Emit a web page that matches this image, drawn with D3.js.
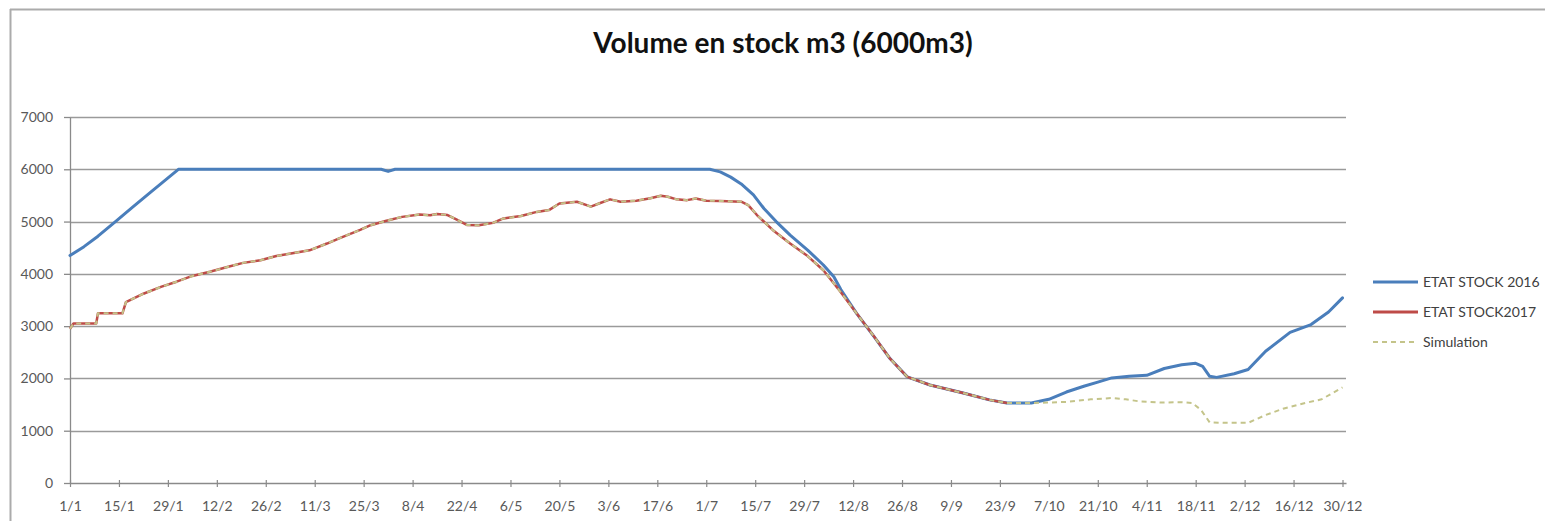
<!DOCTYPE html>
<html><head><meta charset="utf-8">
<script src="https://cdn.jsdelivr.net/npm/d3@7"></script>
<style>html,body{margin:0;padding:0;background:#fff;} svg{display:block;}</style>
</head><body>
<svg id="chart" width="1545" height="521"></svg>
<script>
// ---- data ----
const chartTitle = "Volume en stock m3 (6000m3)";
const tickDays = [0,14,28,42,56,70,84,98,112,126,140,154,168,182,196,210,224,238,252,266,280,294,308,322,336,350,364];
const tickLabels = ["1/1","15/1","29/1","12/2","26/2","11/3","25/3","8/4","22/4","6/5","20/5","3/6","17/6","1/7","15/7","29/7","12/8","26/8","9/9","23/9","7/10","21/10","4/11","18/11","2/12","16/12","30/12"];
const yTicks = [0,1000,2000,3000,4000,5000,6000,7000];
const seriesNames = ["ETAT STOCK 2016","ETAT STOCK2017","Simulation"];

const stock2016Days = [0,4,8,13,18,23,27,31,89,91,93,183,186,189,192,195.5,198.5,202,206,211,215.5,218.5,220.5,225,230,234.5,239.5,246,255.5,263,268,275,280,285,290,294,298,303,308,313,318,322,324,326,328,333,337,342,349,355,360,364];
const stock2016Values = [4350,4520,4720,5000,5280,5560,5780,6000,6000,5960,6000,6000,5950,5850,5720,5510,5250,5000,4740,4455,4170,3945,3700,3245,2800,2385,2030,1875,1720,1590,1530,1530,1600,1740,1850,1930,2010,2040,2060,2190,2260,2290,2230,2040,2020,2090,2170,2520,2880,3030,3270,3540];

const stock2017Days = [0,1,7.5,8,15,16,21,26,30.5,35,40,45,49.5,54.5,59,64,68.5,73.5,77,83,86,90.5,95,100,103,105,108,110.5,113.5,117,121,124,129,133.5,137,140,145,149,151.5,154.5,157.5,162,166,169,171,173.5,176.5,179,182,186,192,194,196.5,201,206,211,215.5,220,225,230,234.5,239.5,246,255.5,263,268];
const stock2017Values = [2950,3050,3050,3245,3245,3460,3620,3750,3850,3960,4040,4130,4210,4260,4340,4400,4450,4580,4680,4840,4930,5015,5090,5135,5120,5145,5125,5040,4935,4930,4975,5060,5105,5185,5220,5345,5380,5285,5350,5425,5380,5400,5445,5495,5475,5425,5410,5440,5400,5395,5380,5315,5125,4840,4580,4340,4070,3690,3245,2800,2385,2030,1875,1720,1590,1530];

// simulation follows the 2017 curve, then continues alone
const simTailDays = [275,285,292,298,302,306,312,318,321,323.5,326,330,337,342,347,354,358,364];
const simTailValues = [1530,1550,1600,1625,1600,1560,1540,1545,1530,1400,1160,1150,1150,1300,1420,1540,1600,1830];

// ---- build ----
const pts = (ds, vs) => ds.map((d,i)=>({d, v: vs[i]}));
const s2016 = pts(stock2016Days, stock2016Values);
const s2017 = pts(stock2017Days, stock2017Values);
const sSim = s2017.concat(pts(simTailDays, simTailValues));

const svg = d3.select("#chart");
const font = "Lato, 'Open Sans', sans-serif";

// frame
svg.append("line").attr("x1",10.5).attr("x2",10.5).attr("y1",9).attr("y2",521).attr("stroke","#ababab").attr("stroke-width",2);
svg.append("line").attr("x1",10).attr("x2",1545).attr("y1",9.5).attr("y2",9.5).attr("stroke","#ababab").attr("stroke-width",2);

const x = d3.scaleLinear().domain([0,365]).range([70,1346]);
const y = d3.scaleLinear().domain([0,7000]).range([483,117]);

// title
svg.append("text").attr("x",783).attr("y",53).attr("text-anchor","middle")
  .attr("font-family",font).attr("font-weight","bold").attr("font-size",28).attr("fill","#111")
  .text(chartTitle);

// gridlines
svg.append("g").selectAll("line").data(yTicks.filter(t=>t>0)).join("line")
  .attr("x1",x(0)).attr("x2",x(365)).attr("y1",d=>Math.round(y(d))+0.5).attr("y2",d=>Math.round(y(d))+0.5)
  .attr("stroke","#9a9a9a").attr("stroke-width",1.3);

// y axis
const gy = svg.append("g").attr("transform",`translate(${x(0)},0)`)
  .call(d3.axisLeft(y).tickValues(yTicks).tickFormat(d3.format("d")).tickSize(6).tickSizeOuter(0).tickPadding(11));
gy.select(".domain").attr("stroke","#8a8a8a").attr("stroke-width",1.3);
gy.selectAll(".tick line").attr("stroke","#8a8a8a").attr("stroke-width",1.3);
gy.selectAll("text").attr("font-family",font).attr("font-size",14).attr("fill","#595959");

// x axis
const gx = svg.append("g").attr("transform",`translate(0,${y(0)})`)
  .call(d3.axisBottom(x).tickValues(tickDays).tickFormat((d,i)=>tickLabels[i]).tickSize(4).tickSizeOuter(0).tickPadding(14));
gx.select(".domain").attr("stroke","#8a8a8a").attr("stroke-width",1.3);
gx.selectAll(".tick line").attr("y1",-3).attr("stroke","#8a8a8a").attr("stroke-width",1.2);
gx.selectAll("text").attr("font-family",font).attr("font-size",14).attr("fill","#595959");

// lines
const line = d3.line().x(p=>x(p.d)).y(p=>y(p.v));
svg.append("path").datum(s2016).attr("d",line).attr("fill","none")
  .attr("stroke","#4a7ebb").attr("stroke-width",3).attr("stroke-linejoin","round").attr("stroke-linecap","round");
svg.append("path").datum(s2017).attr("d",line).attr("fill","none")
  .attr("stroke","#be4b48").attr("stroke-width",2.5).attr("stroke-linejoin","round");
svg.append("path").datum(sSim).attr("d",line).attr("fill","none")
  .attr("stroke","#c4c48a").attr("stroke-width",2).attr("stroke-dasharray","5,4");

// legend
const legColors = ["#4a7ebb","#be4b48","#c4c48a"];
const legDash = [null,null,"5,4"];
const legW = [3,3,2];
const lg = svg.append("g");
seriesNames.forEach((n,i)=>{
  const yy = 282 + i*30;
  lg.append("line").attr("x1",1373).attr("x2",1418).attr("y1",yy).attr("y2",yy)
    .attr("stroke",legColors[i]).attr("stroke-width",legW[i]).attr("stroke-dasharray",legDash[i]);
  lg.append("text").attr("x",1423).attr("y",yy).attr("dy","0.35em")
    .attr("font-family",font).attr("font-size",14).attr("fill","#404040").text(n);
});
</script>
</body></html>
